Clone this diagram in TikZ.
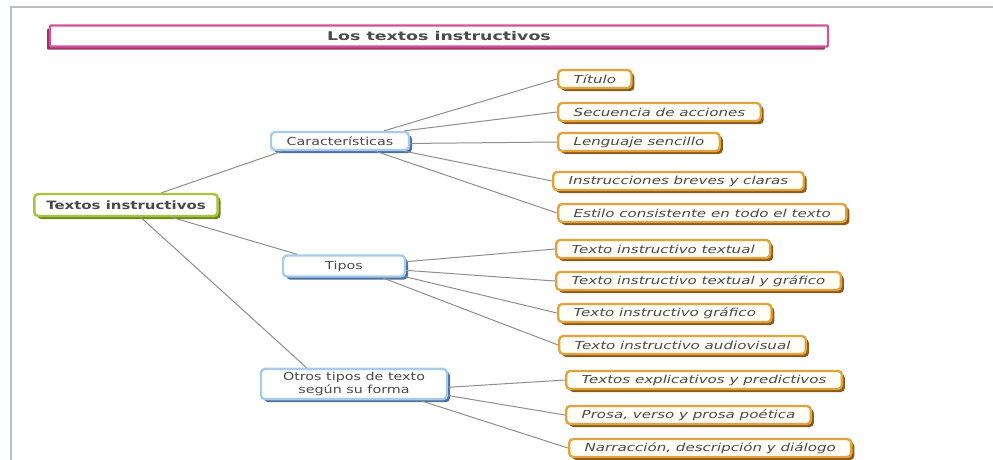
\documentclass[tikz,border=0pt]{standalone}
\usepackage{fontspec}
\usepackage{tikz}
\usetikzlibrary{shadows}
\newfontfamily\mapfont[FakeStretch=1.3]{DejaVu Sans}
\newfontfamily\leaffont[FakeStretch=1.37]{DejaVu Sans}
\newfontfamily\headfont[FakeStretch=1.45]{DejaVu Sans}
\definecolor{framegray}{HTML}{B9BFC5}
\definecolor{textgray}{HTML}{4A4A4A}
\definecolor{linkgray}{HTML}{8E8E8E}
\definecolor{leafline}{HTML}{E4A23C}
\definecolor{leafdark}{HTML}{8A5C1C}
\definecolor{leaffill}{HTML}{FFFEF7}
\definecolor{branchline}{HTML}{A3CCEF}
\definecolor{branchdark}{HTML}{4E6F9E}
\definecolor{rootline}{HTML}{A8C53A}
\definecolor{rootdark}{HTML}{6C8A1E}
\definecolor{titleline}{HTML}{D0559A}
\definecolor{titledark}{HTML}{9E2F68}
\tikzset{
  box/.style={rounded corners=4pt, line width=2.4pt, fill=white, text=textgray,
    inner xsep=12pt, minimum height=18pt},
  leaf/.style={box, anchor=west, draw=leafline, fill=leaffill, inner xsep=15.5pt,
    font=\leaffont\itshape\fontsize{11}{13}\selectfont,
    drop shadow={shadow xshift=3pt, shadow yshift=-3pt, fill=leafdark, opacity=1}},
  branch/.style={box, draw=branchline, font=\mapfont\fontsize{11}{13}\selectfont,
    drop shadow={shadow xshift=3pt, shadow yshift=-3pt, fill=branchdark, opacity=1}},
  rootbox/.style={box, draw=rootline, minimum height=22pt,
    font=\mapfont\bfseries\fontsize{11.5}{13}\selectfont,
    drop shadow={shadow xshift=3pt, shadow yshift=-3pt, fill=rootdark, opacity=1}},
  titlebox/.style={draw=titleline, line width=2.2pt, fill=white, text=textgray,
    minimum width=778pt, minimum height=21pt, rounded corners=1pt,
    font=\headfont\bfseries\fontsize{12}{14}\selectfont,
    drop shadow={shadow xshift=-3pt, shadow yshift=-3pt, fill=titledark, opacity=1}},
  link/.style={draw=linkgray, line width=1pt}
}
\begin{document}
\begin{tikzpicture}[x=1pt,y=-1pt]
  \useasboundingbox (0,0) rectangle (993,459);
  \draw[framegray, line width=1.2pt] (11,470) -- (11,7) -- (1000,7);

  \node[titlebox] (title) at (439,36) {Los textos instructivos};

  \node[rootbox] (root) at (126,205) {Textos instructivos};
  \node[branch, minimum width=138pt] (car) at (340,141) {Características};
  \node[branch, minimum width=122pt, minimum height=21pt] (tip) at (344,266) {Tipos};
  \node[branch, align=center, minimum width=186pt] (otr) at (354,384)
    {Otros tipos de texto\\según su forma};

  % hojas
  \node[leaf] (tit) at (557,79) {Título};
  \node[leaf] (sec) at (557,112) {Secuencia de acciones};
  \node[leaf] (len) at (557,142) {Lenguaje sencillo};
  \node[leaf] (ins) at (552,181) {Instrucciones breves y claras};
  \node[leaf] (est) at (557,213) {Estilo consistente en todo el texto};
  \node[leaf] (tt) at (555,249) {Texto instructivo textual};
  \node[leaf] (ttg) at (555,281) {Texto instructivo textual y gráfico};
  \node[leaf] (tg) at (557,313) {Texto instructivo gráfico};
  \node[leaf] (ta) at (558,345) {Texto instructivo audiovisual};
  \node[leaf] (tep) at (565,380) {Textos explicativos y predictivos};
  \node[leaf] (pro) at (565,415) {Prosa, verso y prosa poética};
  \node[leaf] (nar) at (568,448) {Narracción, descripción y diálogo};

  % conexiones
  \draw[link] (root.19) -- (car.190);
  \draw[link] (root.345) -- (tip.166);
  \draw[link] (root.320) -- (otr.161);
  \foreach \a/\b in {car.13/tit, car.9/sec, car.358/len, car.351/ins, car.344/est,
                     tip.4/tt, tip.356/ttg, tip.350/tg, tip.343/ta,
                     otr.358/tep, otr.353/pro, otr.346/nar}
    \draw[link] (\a) -- (\b.west);
\end{tikzpicture}
\end{document}
